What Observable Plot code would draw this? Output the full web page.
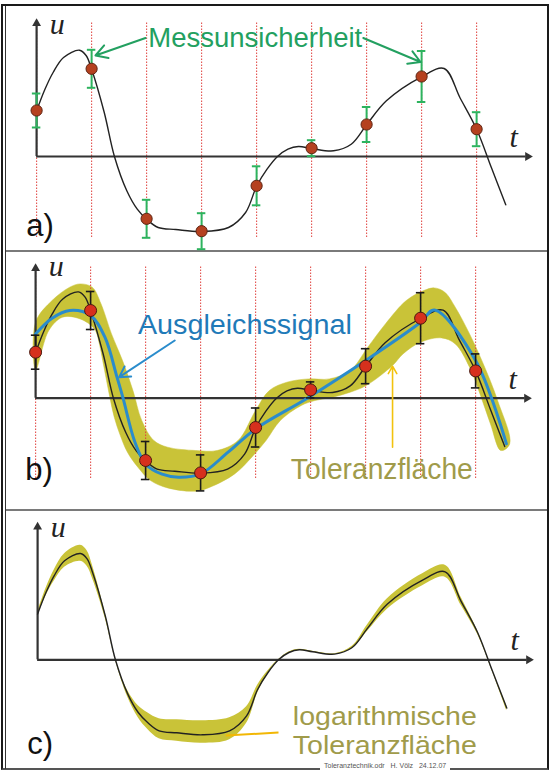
<!DOCTYPE html>
<html><head><meta charset="utf-8">
<script src="https://cdn.jsdelivr.net/npm/d3@7"></script>
<script src="https://cdn.jsdelivr.net/npm/@observablehq/plot@0.6"></script>
<style>
html,body{margin:0;padding:0;background:#fff;}
#page{position:relative;width:550px;height:771px;overflow:hidden;background:#fff;font-family:"Liberation Sans",Arial,sans-serif;}
.abs{position:absolute;}
</style></head><body><div id="page"></div>
<script>
// ---- measured samples (t = sample index, u = signal value) ----
const sampleT   = [0, 1, 2, 3, 4, 5, 6, 7, 8];
const sampleU   = [4.6, 8.77, -6.23, -7.47, -2.93, 0.83, 3.2, 8.0, 2.73];
const sampleErr = [1.7, 1.9, 1.9, 1.8, 1.95, 0.8, 1.75, 2.55, 1.7];

// ---- true signal (black curve) ----
const signalT = [0, 0.15, 0.30, 0.49, 0.78, 0.90, 1.00, 1.23, 1.415, 1.64, 1.83, 2.00, 2.21, 2.53, 3.00, 3.49, 3.80, 4.00, 4.19, 4.38, 4.57, 4.76, 5.00, 5.40, 5.72, 6.00, 6.36, 7.00, 7.41, 7.70, 8.00, 8.27, 8.53];
const signalU = [4.57, 6.7, 8.4, 9.9, 10.63, 10.1, 8.73, 4.4, 0, -3.43, -5.27, -6.27, -7.1, -7.3, -7.5, -7.1, -5.6, -2.97, -1.27, 0, 0.73, 1.0, 0.8, 0.57, 1.23, 3.17, 5.57, 7.97, 8.8, 5.85, 2.73, -1.13, -4.83];
// logarithmic tolerance band (panel c), upper and lower edge at signalT
const logBandUp = [4.75, 7.1, 8.95, 10.6, 11.45, 10.9, 9.4, 4.65, 0.05, -3.1, -4.6, -5.3, -5.9, -6.0, -6.1, -5.8, -4.7, -2.55, -1.1, 0.02, 0.78, 1.06, 0.85, 0.61, 1.35, 3.5, 6.1, 8.6, 9.45, 6.25, 2.9, -1.05, -4.6];
const logBandLo = [4.4, 6.35, 7.85, 9.25, 9.85, 9.35, 8.1, 4.15, -0.05, -3.75, -5.8, -6.95, -7.9, -8.15, -8.35, -8.0, -6.35, -3.35, -1.4, -0.02, 0.68, 0.94, 0.75, 0.53, 1.12, 2.85, 5.05, 7.4, 8.25, 5.45, 2.55, -1.2, -5.1];

// ---- fitted signal (Ausgleichssignal, blue) ----
const fitT = [0, 0.30, 0.62, 1.00, 1.26, 1.48, 1.59, 1.80, 2.00, 2.30, 2.60, 3.00, 3.50, 4.00, 4.94, 6.00, 7.00, 7.25, 8.00, 8.56];
const fitU = [6.43, 8.0, 8.77, 8.27, 6.1, 2.1, 0, -4.3, -6.57, -7.6, -7.9, -7.57, -5.4, -3.07, 0, 3.77, 7.6, 8.83, 3.77, -4.57];

// ---- tolerance area (panel b): upper edge left->right, lower edge right->left ----
const tolUpT = [0, 0.30, 0.62, 0.81, 1.03, 1.19, 1.38, 1.58, 1.77, 1.93, 2.15, 2.40, 2.91, 3.30, 3.68, 4.00, 4.25, 4.57, 4.96, 5.34, 5.72, 6.04, 6.36, 6.74, 7.06, 7.25, 7.44, 7.63, 7.89, 8.14, 8.40, 8.62];
const tolUpU = [7.6, 9.77, 11.1, 11.43, 11.1, 9.43, 6.43, 3.77, 0.77, -2.23, -4.23, -4.9, -5.23, -5.23, -4.23, -1.23, 0.77, 1.6, 1.93, 1.93, 2.77, 5.1, 7.43, 9.77, 10.77, 11.03, 10.6, 9.1, 6.43, 3.43, -0.23, -4.57];
const tolLoT = [8.46, 8.27, 8.08, 7.89, 7.63, 7.38, 7.00, 6.68, 6.49, 6.01, 5.72, 5.40, 5.08, 4.83, 4.45, 4.19, 3.93, 3.62, 3.17, 2.91, 2.40, 2.09, 1.86, 1.67, 1.54, 1.43, 1.35, 1.29, 1.22, 1.16, 1.07, 0.81, 0.49, 0.24, 0];
const tolLoU = [-5.23, -2.57, 0.43, 3.1, 5.43, 6.03, 5.6, 4.43, 3.27, 1.27, 0.6, 0.1, -0.23, -0.73, -2.23, -4.23, -5.9, -7.57, -8.9, -9.3, -8.97, -8.23, -6.9, -5.4, -3.73, -1.9, 0.1, 1.77, 3.77, 5.43, 6.93, 7.93, 8.1, 6.77, 2.77];

// ---- texts ----
const panelLabels = ["a)", "b)", "c)"];
const axisLabels = ["u", "t"];
const annotations = ["Messunsicherheit", "Ausgleichssignal", "Toleranzfläche", "logarithmische", "Toleranzfläche"];
const footer = "Toleranztechnik.odr   H. Völz   24.12.07";

// ---- derived tables ----
const samples = sampleT.map((t, i) => ({t, u: sampleU[i], e: sampleErr[i]}));
const signal = signalT.map((t, i) => ({t, u: signalU[i], up: logBandUp[i], lo: logBandLo[i]}));
const fit = fitT.map((t, i) => ({t, u: fitU[i]}));
const tolPoly = tolUpT.map((t, i) => ({t, u: tolUpU[i]})).concat(tolLoT.map((t, i) => ({t, u: tolLoU[i]})));

const X_DOMAIN = [-36.1 / 55, (550 - 36.1) / 55];
const SANS = "Liberation Sans, Arial, sans-serif";
const SERIF = "Liberation Serif, Times New Roman, serif";
const GREEN = "#23a060", BLUE = "#2a8ccc", BAND = "#c9c338", OLIVE = "#a09b4a";
const CAP = 0.077;

function axes(uTop) {
  return [
    Plot.ruleY([0], {x1: 0, x2: 8.9, stroke: "#333", strokeWidth: 2.2}),
    Plot.ruleX([0], {y1: 0, y2: uTop - 0.45, stroke: "#333", strokeWidth: 2.2}),
    Plot.dot([0], {x: 8.93, y: 0, symbol: "triangle", r: 3.3, fill: "#333", stroke: "none", rotate: 90}),
    Plot.dot([0], {x: 0, y: uTop - 0.47, symbol: "triangle", r: 3.3, fill: "#333", stroke: "none"}),
    Plot.text([axisLabels[0]], {x: 0.24, y: 12.25, text: d => d, textAnchor: "start", lineAnchor: "bottom", fontFamily: SERIF, fontStyle: "italic", fontSize: 30, fill: "#222"}),
    Plot.text([axisLabels[1]], {x: 8.6, y: 0.95, text: d => d, textAnchor: "start", lineAnchor: "bottom", fontFamily: SERIF, fontStyle: "italic", fontSize: 30, fill: "#222"})
  ];
}
function dashed(u1, u2) {
  return Plot.ruleX(sampleT, {x: d => d, y1: u1, y2: u2, stroke: "#e0403c", strokeWidth: 1.1, strokeDasharray: "1.6,1.4", strokeOpacity: 0.9});
}
function errorBars(color, w) {
  return [
    Plot.ruleX(samples, {x: "t", y1: d => d.u - d.e, y2: d => d.u + d.e, stroke: color, strokeWidth: w}),
    Plot.ruleY(samples, {x1: d => d.t - CAP, x2: d => d.t + CAP, y: d => d.u + d.e, stroke: color, strokeWidth: w}),
    Plot.ruleY(samples, {x1: d => d.t - CAP, x2: d => d.t + CAP, y: d => d.u - d.e, stroke: color, strokeWidth: w})
  ];
}
function blackCurve() {
  return Plot.line(signal, {x: "t", y: "u", curve: "catmull-rom", stroke: "#222", strokeWidth: 1.4});
}
function plot(height, yDomain, marks) {
  return Plot.plot({width: 550, height, margin: 0, x: {domain: X_DOMAIN, axis: null}, y: {domain: yDomain, axis: null},
    style: {background: "transparent", overflow: "visible"}, marks});
}
function label(s, t, u) {
  return Plot.text([s], {x: t, y: u, text: d => d, textAnchor: "start", lineAnchor: "bottom", fontFamily: SANS, fontSize: 31, fill: "#111"});
}
function note(s, t, u, size, color) {
  return Plot.text([s], {x: t, y: u, text: d => d, textAnchor: "start", lineAnchor: "bottom", fontFamily: SANS, fontSize: size, fill: color});
}
function fitText(svg, map) {
  d3.select(svg).selectAll("text").each(function () {
    const s = this.textContent;
    if (map[s]) { this.setAttribute("textLength", map[s]); this.setAttribute("lengthAdjust", "spacingAndGlyphs"); }
  });
}

// ---- panel a ----
const svgA = plot(245, [-9.5, 15.0], [
  dashed(-8.1, 13.4),
  ...axes(13.77),
  blackCurve(),
  ...errorBars("#2db35e", 2),
  Plot.dot(samples, {x: "t", y: "u", r: 5.6, fill: "#b5411f", stroke: "#5e2412", strokeWidth: 1}),
  Plot.arrow([{x1: 1.98, y1: 11.85, x2: 1.07, y2: 10.1}, {x1: 5.94, y1: 11.85, x2: 6.98, y2: 9.45}],
    {x1: "x1", y1: "y1", x2: "x2", y2: "y2", stroke: GREEN, strokeWidth: 2, headLength: 10}),
  note(annotations[0], 2.03, 10.95, 27, GREEN),
  label(panelLabels[0], -0.19, -7.9)
]);
fitText(svgA, {"Messunsicherheit": 214});

// ---- panel b ----
const svgB = plot(258, [-11.23, 14.57], [
  Plot.line(tolPoly, {x: "t", y: "u", curve: "catmull-rom-closed", fill: BAND, stroke: BAND, strokeWidth: 0.5}),
  dashed(-8.03, 13.27),
  ...axes(13.44),
  blackCurve(),
  Plot.line(fit, {x: "t", y: "u", curve: "catmull-rom", stroke: BLUE, strokeWidth: 3}),
  ...errorBars("#1a1a1a", 1.6),
  Plot.dot(samples, {x: "t", y: "u", r: 6, fill: "#d6301d", stroke: "#4a1a10", strokeWidth: 1}),
  Plot.arrow([{x1: 2.53, y1: 5.77, x2: 1.52, y2: 2.1}], {x1: "x1", y1: "y1", x2: "x2", y2: "y2", stroke: BLUE, strokeWidth: 2, headLength: 9}),
  Plot.arrow([{x1: 6.49, y1: -4.9, x2: 6.49, y2: 3.2}], {x1: "x1", y1: "y1", x2: "x2", y2: "y2", stroke: "#f2c20e", strokeWidth: 1.6, headLength: 8}),
  note(annotations[1], 1.86, 6.4, 27, "#1f7ab8"),
  note(annotations[2], 4.64, -8.03, 29, OLIVE),
  label(panelLabels[1], -0.19, -8.2)
]);
fitText(svgB, {"Ausgleichssignal": 214, "Toleranzfläche": 182});

// ---- panel c ----
const svgC = plot(256, [-10.77, 14.83], [
  Plot.areaY(signal, {x: "t", y1: "lo", y2: "up", curve: "catmull-rom", fill: BAND}),
  ...axes(13.76),
  blackCurve(),
  Plot.link([{x1: 3.42, y1: -7.57, x2: 4.38, y2: -7.27}], {x1: "x1", y1: "y1", x2: "x2", y2: "y2", stroke: "#f2b705", strokeWidth: 2}),
  note(annotations[3], 4.64, -6.5, 26, OLIVE),
  note(annotations[4], 4.64, -9.42, 26, OLIVE),
  label(panelLabels[2], -0.19, -9.45)
]);
fitText(svgC, {"logarithmische": 184, "Toleranzfläche": 184});

// ---- layout ----
const page = document.getElementById("page");
function box(css) { const d = document.createElement("div"); d.className = "abs"; d.style.cssText = css; page.appendChild(d); return d; }
box("left:1px;top:4px;width:544px;height:762px;border:2px solid #1a1a1a;border-bottom-color:#555;");
box("left:5px;top:6px;width:1px;height:763px;background:#333;");
box("left:6px;top:250px;width:541px;height:1.5px;background:#7a7a7a;");
box("left:6px;top:509px;width:541px;height:1.5px;background:#7a7a7a;");
[[svgA, 6, 0], [svgB, 252, -1], [svgC, 511, 1]].forEach(([s, top, left]) => {
  s.style.position = "absolute"; s.style.top = top + "px"; s.style.left = left + "px";
  page.appendChild(s);
});
const f = box("left:320px;top:762px;padding:0 4px;background:#fff;font-size:7px;line-height:8px;color:#555;white-space:pre;");
f.textContent = footer;
</script></body></html>
